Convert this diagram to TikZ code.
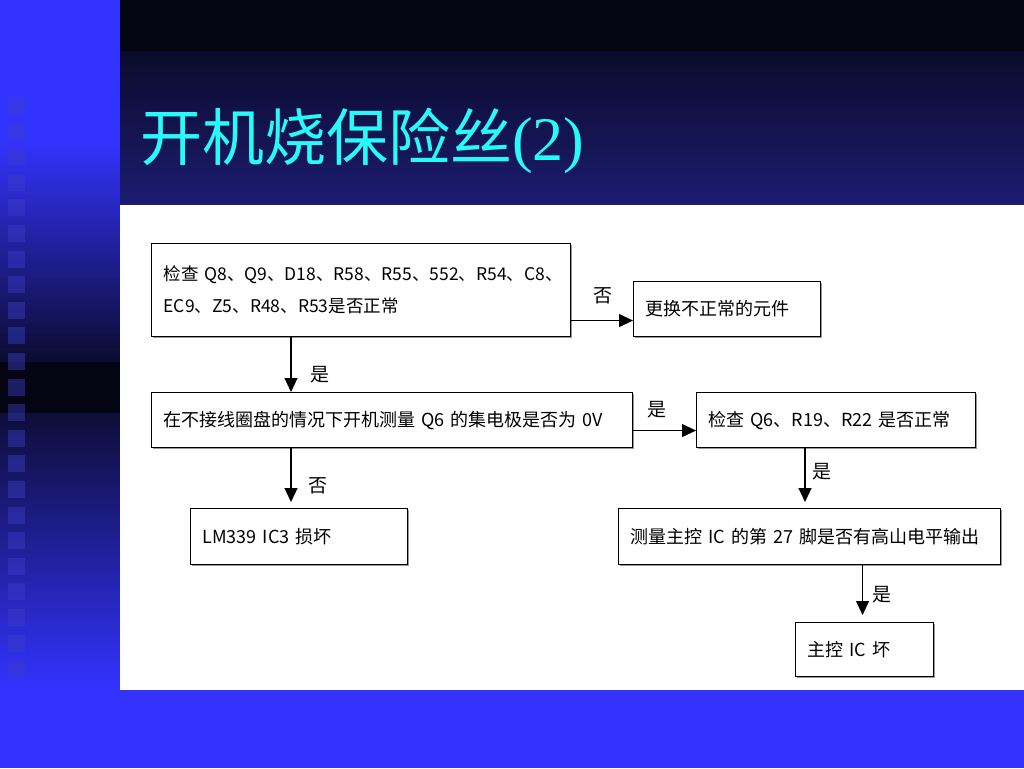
\documentclass[tikz,border=0pt]{standalone}
\usepackage{fontspec}
\setmainfont{Liberation Serif}
\newfontfamily\cjk{Noto Sans CJK SC}
\usetikzlibrary{arrows.meta,shadows}
\definecolor{slideblue}{RGB}{51,51,255}
\definecolor{slidenavy}{RGB}{28,28,112}
\definecolor{slidedark}{RGB}{4,4,18}
\definecolor{titlecyan}{RGB}{40,250,250}
\definecolor{squareblue}{RGB}{60,60,200}

\begin{document}
\begin{tikzpicture}[x=1pt,y=-1pt,
    box/.style={draw=black, fill=white, line width=1.1pt, anchor=north west,
        font=\cjk\fontsize{18}{32}\selectfont, align=left,
        inner xsep=12pt, inner ysep=0pt,
        drop shadow={shadow xshift=1.5pt, shadow yshift=-1.5pt, opacity=0.8, fill=gray}},
    lbl/.style={font=\cjk\fontsize{19}{20}\selectfont},
    arr/.style={line width=1.1pt, -{Triangle[length=14pt,width=13pt]}}
]
\useasboundingbox (0,0) rectangle (1024,768);

% slide background
\fill[slideblue] (0,0) rectangle (1024,768);
\shade[top color=slideblue, bottom color=slidedark!70!slidenavy] (0,140) rectangle (120,363);
\fill[slidedark] (0,362) rectangle (120,414);
\shade[top color=slidedark!60!slidenavy, bottom color=slideblue] (0,413) rectangle (120,690);
\foreach \k in {0,...,22}
  \fill[squareblue, opacity=0.45] (8,97+25.6*\k) rectangle ++(17,17);

% title band
\fill[slidedark] (120,0) rectangle (1024,53);
\shade[top color=slidedark!70!slidenavy, bottom color=slidenavy] (120,52) rectangle (1024,206);
\node[anchor=base west, inner sep=0pt, text=titlecyan, font=\fontsize{62}{62}\selectfont]
    (title) at (140,160) {{\cjk 开机烧保险丝}(2)};

% white panel
\fill[white] (120,205) rectangle (1024,690);

% boxes
\node[box, text width=395pt, minimum height=93pt, font=\cjk\fontsize{17.5}{32}\selectfont] (chk) at (151,243)
    {检查 Q8、Q9、D18、R58、R55、552、R54、C8、\\EC9、Z5、R48、R53是否正常};
\node[box, text width=163pt, minimum height=55pt] (repl) at (633,281) {更换不正常的元件};
\node[box, text width=457pt, minimum height=55pt] (meas) at (151,392)
    {在不接线圈盘的情况下开机测量 Q6 的集电极是否为 0V};
\node[box, text width=255pt, minimum height=55pt] (chkq) at (696,392) {检查 Q6、R19、R22 是否正常};
\node[box, text width=193pt, minimum height=56pt] (lm) at (190,508) {LM339 IC3 损坏};
\node[box, text width=358pt, minimum height=56pt] (pin) at (618,508)
    {测量主控 IC 的第 27 脚是否有高山电平输出};
\node[box, text width=114pt, minimum height=54pt] (ic) at (795,622) {主控 IC 坏};

% connectors
\draw[arr] ([yshift=-11.5pt]repl.west -| chk.east) -- ([yshift=-11.5pt]repl.west);
\draw[arr] ([xshift=140pt]chk.south west) -- ([xshift=140pt]chk.south west |- meas.north);
\draw[arr] ([yshift=-10.5pt]meas.east) -- ([yshift=-10.5pt]chkq.west);
\draw[arr] ([xshift=140pt]meas.south west) -- ([xshift=140pt,yshift=6pt]meas.south west |- lm.north);
\draw[arr] ([xshift=109pt]chkq.south west) -- ([xshift=109pt,yshift=6pt]chkq.south west |- pin.north);
\draw[arr] ([xshift=-2pt]ic.north |- pin.south) -- ([xshift=-2pt,yshift=7pt]ic.north);

% labels
\node[lbl] (n1) at (603,296) {否};
\node[lbl] (y1) at (320,375) {是};
\node[lbl] (y2) at (657,410) {是};
\node[lbl] (n2) at (318,486) {否};
\node[lbl] (y3) at (822,472) {是};
\node[lbl] (y4) at (882,595) {是};
\end{tikzpicture}
\end{document}
